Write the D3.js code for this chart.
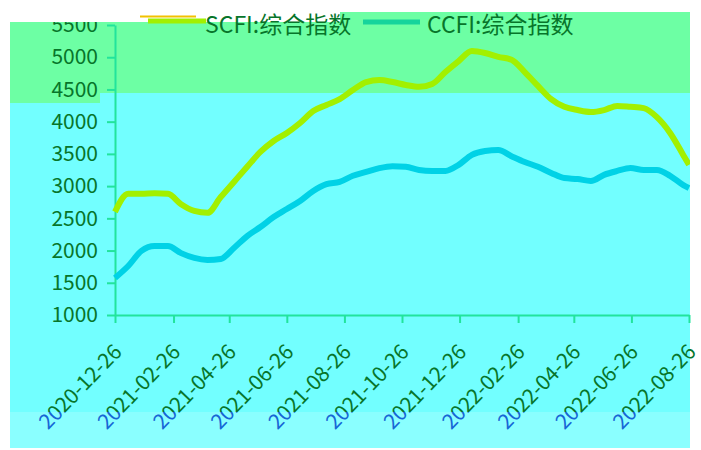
<!DOCTYPE html>
<html>
<head>
<meta charset="utf-8">
<script src="https://cdn.jsdelivr.net/npm/d3@7"></script>
<style>
  body { margin: 0; background: #fff; }
  svg { display: block; font-family: "Noto Sans CJK SC", "Noto Sans", sans-serif; }
</style>
</head>
<body>
<svg width="701" height="450"></svg>
<script>
// two-weekly readings of the freight indices
const dates = [
  "2020-12-26","2021-01-09","2021-01-23","2021-02-06","2021-02-20","2021-03-06",
  "2021-03-20","2021-04-03","2021-04-17","2021-05-01","2021-05-15","2021-05-29",
  "2021-06-12","2021-06-26","2021-07-10","2021-07-24","2021-08-07","2021-08-21",
  "2021-09-04","2021-09-18","2021-10-02","2021-10-16","2021-10-30","2021-11-13",
  "2021-11-27","2021-12-11","2021-12-25","2022-01-08","2022-01-22","2022-02-05",
  "2022-02-19","2022-03-05","2022-03-19","2022-04-02","2022-04-16","2022-04-30",
  "2022-05-14","2022-05-28","2022-06-11","2022-06-25","2022-07-09","2022-07-23",
  "2022-08-06","2022-08-20","2022-08-26"
];
const scfi = [
  2600, 2880, 2880, 2890, 2880, 2720, 2615, 2585, 2830, 3065, 3300, 3530,
  3700, 3825, 3980, 4165, 4260, 4350, 4490, 4615, 4645, 4615, 4570, 4540,
  4585, 4770, 4940, 5095, 5065, 5005, 4960, 4770, 4555, 4350, 4230, 4180,
  4150, 4180, 4245, 4230, 4210, 4070, 3825, 3480, 3330
];
const ccfi = [
  1575, 1760, 1995, 2070, 2070, 1960, 1885, 1855, 1870, 2040, 2225, 2365,
  2520, 2645, 2770, 2925, 3030, 3065, 3160, 3220, 3280, 3310, 3300, 3250,
  3235, 3235, 3330, 3485, 3545, 3560, 3465, 3375, 3300, 3205, 3125, 3110,
  3080, 3175, 3235, 3280, 3250, 3250, 3160, 3015, 2970
];
const tickLabels = [
  "2020-12-26","2021-02-26","2021-04-26","2021-06-26","2021-08-26","2021-10-26",
  "2021-12-26","2022-02-26","2022-04-26","2022-06-26","2022-08-26"
];
const yTicks = [1000, 1500, 2000, 2500, 3000, 3500, 4000, 4500, 5000, 5500];
const seriesNames = ["SCFI:综合指数", "CCFI:综合指数"];

const parse = d3.timeParse("%Y-%m-%d");
const fmt = d3.timeFormat("%Y-%m-%d");

const svg = d3.select("svg");
const defs = svg.append("defs");

defs.append("clipPath").attr("id", "panel")
  .append("rect").attr("x", 10).attr("y", 12).attr("width", 680).attr("height", 436);
defs.append("clipPath").attr("id", "upper")
  .append("rect").attr("x", 0).attr("y", 22).attr("width", 701).attr("height", 390);
defs.append("clipPath").attr("id", "lower")
  .append("rect").attr("x", 0).attr("y", 412).attr("width", 701).attr("height", 36);

// background bands
const bg = svg.append("g");
bg.append("rect").attr("x", 10).attr("y", 22).attr("width", 680).attr("height", 81).attr("fill", "#6dffa4");
bg.append("rect").attr("x", 340).attr("y", 12).attr("width", 350).attr("height", 10).attr("fill", "#6dffa4");
bg.append("rect").attr("x", 100).attr("y", 93).attr("width", 590).attr("height", 10).attr("fill", "#72ffff");
bg.append("rect").attr("x", 10).attr("y", 103).attr("width", 680).attr("height", 309).attr("fill", "#72ffff");
bg.append("rect").attr("x", 10).attr("y", 412).attr("width", 680).attr("height", 36).attr("fill", "#8affff");

const x = d3.scaleTime()
  .domain([parse("2020-12-26"), parse("2022-08-26")])
  .range([115, 689]);
const y = d3.scaleLinear()
  .domain([1000, 5500])
  .range([315, 25]);

const axisColor = "#22e49c";
const textColor = "#07752a";

// y axis
const yWrap = svg.append("g").attr("clip-path", "url(#upper)");
const yG = yWrap.append("g")
  .attr("transform", "translate(115,0)")
  .call(d3.axisLeft(y).tickValues(yTicks).tickFormat(d3.format("d"))
    .tickSize(8).tickSizeOuter(0).tickPadding(9));
yG.select(".domain").attr("stroke", axisColor).attr("stroke-width", 2);
yG.selectAll(".tick line").attr("stroke", axisColor).attr("stroke-width", 2);
yG.selectAll(".tick text")
  .attr("fill", textColor)
  .attr("font-size", 21)
  .attr("font-family", "\"Noto Sans CJK SC\", sans-serif");

// x axis
const xTickDates = tickLabels.map(parse);
const xG = svg.append("g")
  .attr("transform", "translate(0,315)")
  .call(d3.axisBottom(x).tickValues(xTickDates).tickSize(8).tickSizeOuter(0).tickFormat(() => ""));
xG.select(".domain").attr("stroke", axisColor).attr("stroke-width", 2);
xG.selectAll(".tick line").attr("stroke", axisColor).attr("stroke-width", 2);

function labels(cls, color, clip) {
  svg.append("g")
    .attr("clip-path", clip)
    .selectAll("text." + cls)
    .data(xTickDates)
    .enter()
      .append("text")
      .attr("class", cls)
      .attr("transform", d => `translate(${x(d) + 8},353) rotate(-46)`)
      .attr("text-anchor", "end")
      .attr("font-size", 21)
      .attr("fill", color)
      .text(d => fmt(d));
}
labels("xl-up", textColor, "url(#upper)");
labels("xl-lo", "#1666d6", "url(#lower)");

// lines
const pts = dates.map((d, i) => ({date: parse(d), s: scfi[i], c: ccfi[i]}));

const lineS = d3.line().x(d => x(d.date)).y(d => y(d.s)).curve(d3.curveMonotoneX);
const lineC = d3.line().x(d => x(d.date)).y(d => y(d.c)).curve(d3.curveMonotoneX);

const plot = svg.append("g").attr("clip-path", "url(#panel)");
plot.append("path").attr("d", lineC(pts))
  .attr("fill", "none").attr("stroke", "#00d2e6").attr("stroke-width", 6)
  .attr("stroke-linejoin", "round");
plot.append("path").attr("d", lineS(pts))
  .attr("fill", "none").attr("stroke", "#a2f000").attr("stroke-width", 6)
  .attr("stroke-linejoin", "round");

// legend
const leg = svg.append("g");
leg.append("line").attr("x1", 140).attr("x2", 196).attr("y1", 16.5).attr("y2", 16.5)
  .attr("stroke", "#f2c200").attr("stroke-width", 2);
leg.append("line").attr("x1", 148).attr("x2", 206).attr("y1", 21).attr("y2", 21)
  .attr("stroke", "#a2f000").attr("stroke-width", 5);
leg.append("text").attr("x", 205).attr("y", 33).attr("font-size", 23).attr("fill", textColor)
  .text(seriesNames[0]);
leg.append("line").attr("x1", 363).attr("x2", 420).attr("y1", 22).attr("y2", 22)
  .attr("stroke", "#16d49c").attr("stroke-width", 5);
leg.append("text").attr("x", 427).attr("y", 33).attr("font-size", 23).attr("fill", textColor)
  .text(seriesNames[1]);
</script>
</body>
</html>
